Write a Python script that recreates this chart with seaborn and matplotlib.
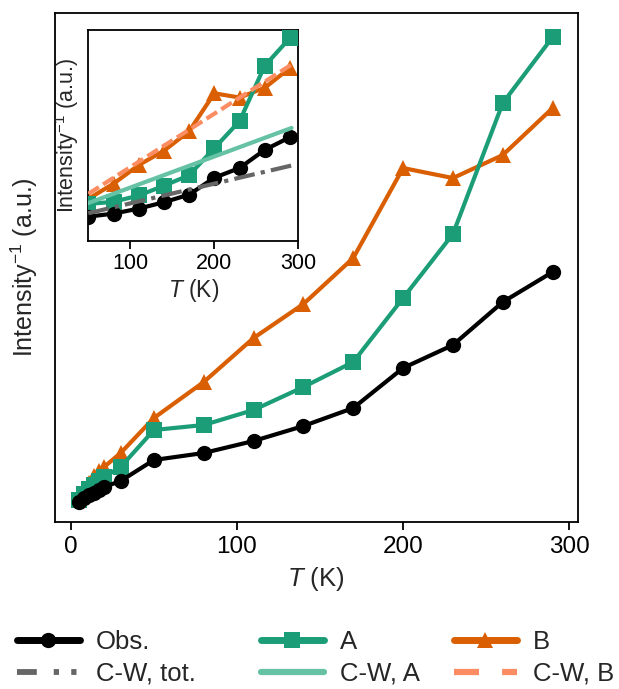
import numpy as np
import pandas as pd
import matplotlib
matplotlib.use("Agg")
import matplotlib.pyplot as plt
import seaborn as sns
from matplotlib.lines import Line2D

sns.set_theme(style="ticks")
plt.rcParams['font.family'] = ['Liberation Sans', 'DejaVu Sans']
plt.rcParams['mathtext.fontset'] = 'custom'
plt.rcParams['mathtext.rm'] = 'Liberation Sans'
plt.rcParams['mathtext.it'] = 'Liberation Sans:italic'
plt.rcParams['mathtext.default'] = 'regular'

# ---- data ----
temperature = [5, 8, 11, 14, 17, 20, 30, 50, 80, 110, 140, 170, 200, 230, 260, 290]
obs = [0.20, 0.24, 0.27, 0.29, 0.32, 0.35, 0.41, 0.62, 0.69, 0.81, 0.96, 1.14, 1.54, 1.77, 2.20, 2.50]
site_a = [0.22, 0.28, 0.33, 0.37, 0.41, 0.45, 0.55, 0.92, 0.97, 1.12, 1.35, 1.60, 2.24, 2.88, 4.19, 4.85]
site_b = [0.24, 0.32, 0.39, 0.46, 0.51, 0.55, 0.69, 1.04, 1.40, 1.84, 2.18, 2.64, 3.54, 3.44, 3.67, 4.14]

cw_temperature = [50, 292]
cw_tot = [0.70, 1.83]
cw_a = [0.94, 2.72]
cw_b = [1.16, 4.22]

labels = ["Obs.", "C-W, tot.", "A", "C-W, A", "B", "C-W, B"]

c_obs = "black"
c_a = "#1b9e77"
c_b = "#d95f02"
c_cwtot = "#666666"
c_cwa = "#66c2a5"
c_cwb = "#fc8d62"

df = pd.DataFrame({"T": temperature, "obs": obs, "A": site_a, "B": site_b})
cw = pd.DataFrame({"T": cw_temperature, "tot": cw_tot, "A": cw_a, "B": cw_b})

fig = plt.figure(figsize=(6.19, 6.89), dpi=100)
ax = fig.add_axes([0.0889, 0.2424, 0.8441, 0.7386])
axin = fig.add_axes([0.1427, 0.6507, 0.3392, 0.3058])

lw = 3.0
ms = 11
tot_dash = (0, (5, 1.5, 1, 1.5))
b_dash = (0, (3, 1.2))

def draw(a, with_cw):
    sns.lineplot(data=df, x="T", y="B", ax=a, color=c_b, marker="^", markersize=ms + 0.5,
                 markeredgewidth=0, linewidth=lw, zorder=2)
    sns.lineplot(data=df, x="T", y="A", ax=a, color=c_a, marker="s", markersize=ms,
                 markeredgewidth=0, linewidth=lw, zorder=3)
    sns.lineplot(data=df, x="T", y="obs", ax=a, color=c_obs, marker="o", markersize=ms,
                 markeredgewidth=0, linewidth=lw, zorder=4)
    if with_cw:
        sns.lineplot(data=cw, x="T", y="tot", ax=a, color=c_cwtot, linewidth=lw,
                     linestyle=tot_dash, zorder=5)
        sns.lineplot(data=cw, x="T", y="A", ax=a, color=c_cwa, linewidth=lw, zorder=5)
        sns.lineplot(data=cw, x="T", y="B", ax=a, color=c_cwb, linewidth=lw,
                     linestyle=b_dash, zorder=5)

draw(ax, False)
draw(axin, True)

for a in (ax, axin):
    for s in a.spines.values():
        s.set_linewidth(1.3)
        s.set_color("black")
    a.set_yticks([])

ax.tick_params(axis="x", direction="out", length=6, width=1.3, colors="black",
               labelsize=17.5, pad=4)
axin.tick_params(axis="x", direction="out", length=6, width=1.3, colors="black",
                 labelsize=15.5, pad=3)

ax.set_xlim(-9.5, 305)
ax.set_ylim(0, 5.09)
ax.set_xticks([0, 100, 200, 300])
ax.set_xlabel("$\\mathit{T}$ (K)", fontsize=18.5, labelpad=5)
ax.set_ylabel("Intensity$^{-1}$ (a.u.)", fontsize=18, labelpad=11)

axin.set_xlim(50, 300)
axin.set_ylim(0.05, 5.04)
axin.set_xticks([100, 200, 300])
axin.set_xlabel("$\\mathit{T}$ (K)", fontsize=16.5, labelpad=2)
axin.set_ylabel("Intensity$^{-1}$ (a.u.)", fontsize=15.5, labelpad=5)

handles = [
    Line2D([], [], color=c_obs, marker="o", markersize=11, markeredgewidth=0, linewidth=5),
    Line2D([], [], color=c_cwtot, linewidth=4.2,
           linestyle=(0, (3.4, 2.9, 0.9, 2.1, 0.9, 2.0))),
    Line2D([], [], color=c_a, marker="s", markersize=11, markeredgewidth=0, linewidth=5),
    Line2D([], [], color=c_cwa, linewidth=4.5),
    Line2D([], [], color=c_b, marker="^", markersize=11.5, markeredgewidth=0, linewidth=5),
    Line2D([], [], color=c_cwb, linewidth=4.5, linestyle=(0, (4.0, 3.7))),
]
col_x = [17, 261, 454]
for i, x0 in enumerate(col_x):
    fig.legend(handles[2 * i:2 * i + 2], labels[2 * i:2 * i + 2], loc="center left",
               bbox_to_anchor=(x0 / 619, 1 - 658 / 689), frameon=False, fontsize=18.5,
               handlelength=2.45, handletextpad=0.62, labelspacing=0.28,
               borderpad=0, borderaxespad=0)

fig.savefig("out.png", dpi=100)
